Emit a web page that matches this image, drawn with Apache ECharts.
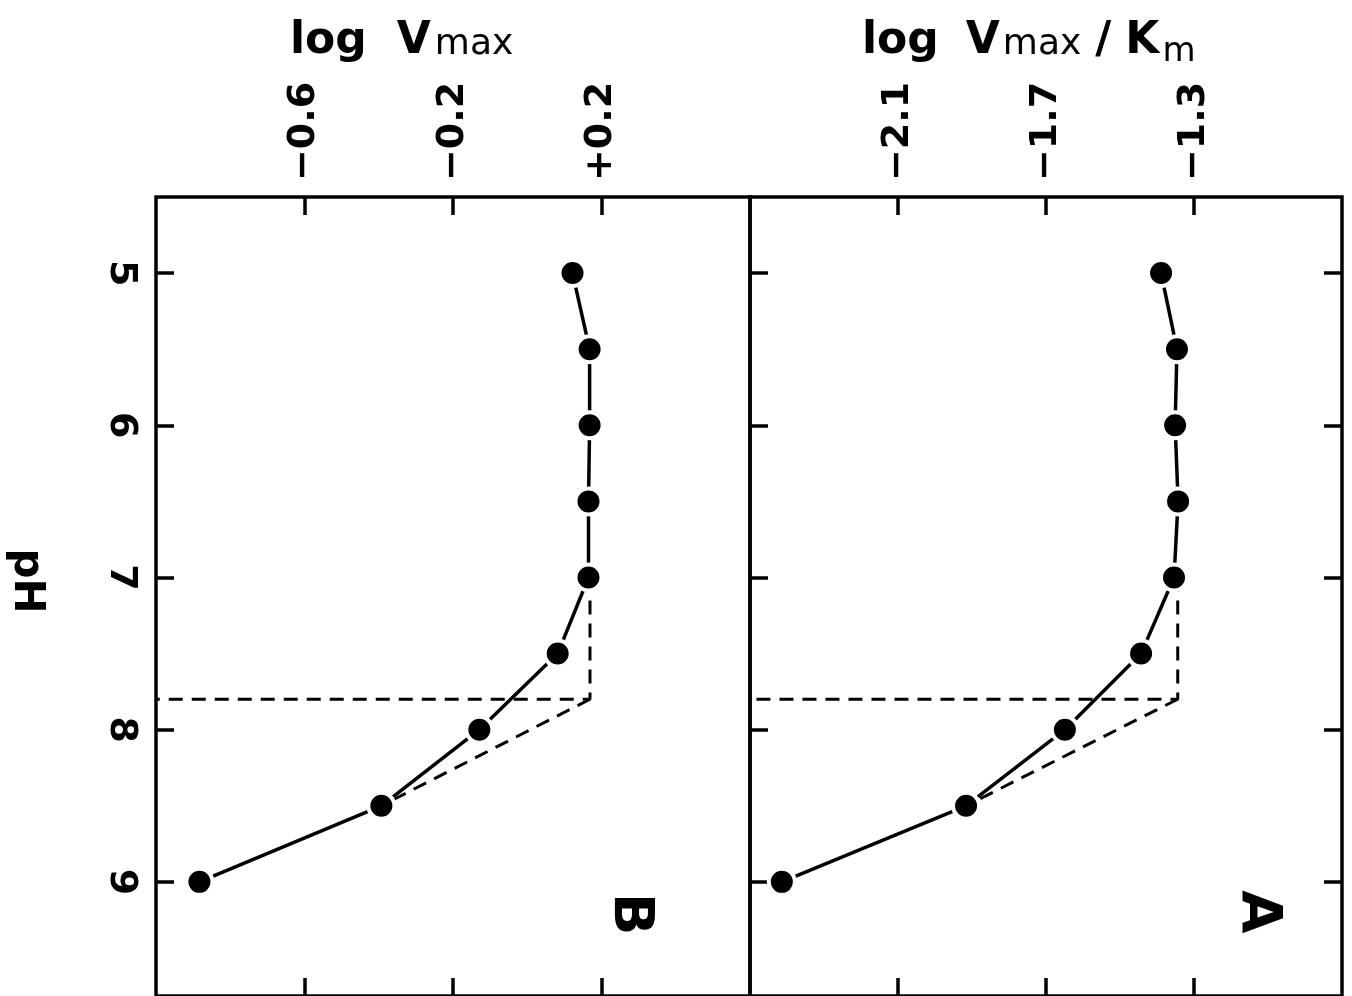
<!DOCTYPE html>
<html>
<head>
<meta charset="utf-8">
<script src="https://cdn.jsdelivr.net/npm/echarts@6/dist/echarts.min.js"></script>
<style>
  html, body { margin: 0; padding: 0; background: #fff; }
  #chart { width: 1352px; height: 996px; }
</style>
</head>
<body>
<div id="chart"></div>
<script>
// pH profile of the enzyme: measured points for both kinetic parameters
const pH = [5, 5.5, 6, 6.5, 7, 7.5, 8, 8.5, 9];
const logVmaxKm = [-1.389, -1.346, -1.351, -1.343, -1.354, -1.443, -1.649, -1.916, -2.414];
const logVmax = [0.122, 0.168, 0.168, 0.165, 0.165, 0.082, -0.129, -0.393, -0.883];

// tick values
const pHTicks = [5, 6, 7, 8, 9];
const ticksA = [-2.1, -1.7, -1.3];
const ticksB = [-0.6, -0.2, 0.2];

// graphical pK estimate: plateau level, break point and limiting slope end
const pK = 7.8;
const plateauA = -1.344;
const plateauB = 0.169;

const rangeA = [-2.5, -0.9];
const rangeB = [-1.0, 0.6];
const pHRange = [4.5, 9.75];

const FONT = '"DejaVu Sans", sans-serif';
const INK = '#000';

function pairs(xs, ys) { return ys.map((y, i) => [xs[i], y]); }
const pointsA = pairs(logVmaxKm, pH);
const pointsB = pairs(logVmax, pH);

const guideA = [[plateauA, 7], [plateauA, pK], [rangeA[0], pK]];
const slopeA = [[plateauA, pK], [logVmaxKm[7], pH[7]]];
const guideB = [[plateauB, 7], [plateauB, pK], [rangeB[0], pK]];
const slopeB = [[plateauB, pK], [logVmax[7], pH[7]]];

function fmtSigned(v) {
  const s = Math.abs(v).toFixed(1);
  if (Math.abs(v) < 1e-9) return s;
  return (v > 0 ? '+' : '\u2212') + s;
}

const tickStyle = { show: true, inside: true, length: 18, lineStyle: { color: INK, width: 3.5 } };
const labelBase = { color: INK, fontFamily: FONT, fontWeight: 'bold' };

function valueAxis(grid, range, ticks, position, withLabels) {
  return {
    gridIndex: grid, type: 'value', position: position,
    min: range[0], max: range[1],
    axisLine: { show: false, onZero: false }, splitLine: { show: false },
    axisTick: Object.assign({ customValues: ticks }, tickStyle),
    axisLabel: withLabels
      ? Object.assign({ show: true, customValues: ticks, rotate: -90, margin: 16, fontSize: 38, formatter: fmtSigned }, labelBase)
      : { show: false }
  };
}

function pHAxis(grid, position, withTicks, withLabels) {
  return {
    gridIndex: grid, type: 'value', position: position, inverse: true,
    min: pHRange[0], max: pHRange[1],
    axisLine: { show: false, onZero: false }, splitLine: { show: false },
    axisTick: withTicks ? Object.assign({ customValues: pHTicks }, tickStyle) : { show: false },
    axisLabel: withLabels
      ? Object.assign({ show: true, customValues: pHTicks, rotate: -90, margin: 16, fontSize: 38 }, labelBase)
      : { show: false }
  };
}

function dataSeries(xi, yi, pts) {
  return {
    type: 'line', xAxisIndex: xi, yAxisIndex: yi, data: pts, z: 5,
    symbol: 'circle', symbolSize: 26, showSymbol: true,
    lineStyle: { color: INK, width: 3.5 },
    itemStyle: { color: INK, borderColor: '#fff', borderWidth: 4 },
    emphasis: { disabled: true }, silent: true
  };
}
function guideSeries(xi, yi, pts) {
  return {
    type: 'line', xAxisIndex: xi, yAxisIndex: yi, data: pts, z: 2,
    symbol: 'none',
    lineStyle: { color: INK, width: 3, type: [14, 9] },
    emphasis: { disabled: true }, silent: true
  };
}

// Axis titles with subscripts, laid out run by run
const measureCtx = document.createElement('canvas').getContext('2d');
function textWidth(t, font) { measureCtx.font = font; return measureCtx.measureText(t).width; }
function titleRuns(x0, baseline, runs) {
  let cx = x0;
  return runs.map(r => {
    const font = (r.bold ? 'bold ' : '') + r.size + 'px ' + FONT;
    const x = cx + (r.gap || 0);
    cx = x + textWidth(r.text, font);
    return {
      type: 'text', silent: true,
      style: {
        text: r.text, x: x, y: baseline + (r.dy || 0) - 0.34 * r.size,
        font: font, fill: INK, align: 'left', verticalAlign: 'middle'
      }
    };
  });
}

const titleA = titleRuns(862, 57, [
  { text: 'log', bold: true, size: 44 },
  { text: 'V', bold: true, size: 44, gap: 27 },
  { text: 'max', bold: false, size: 36, gap: 3 },
  { text: '/', bold: true, size: 44, gap: 14 },
  { text: 'K', bold: true, size: 44, gap: 14 },
  { text: 'm', bold: false, size: 34, gap: 3, dy: 7 }
]);
const titleB = titleRuns(290, 57, [
  { text: 'log', bold: true, size: 44 },
  { text: 'V', bold: true, size: 44, gap: 30 },
  { text: 'max', bold: false, size: 36, gap: 4 }
]);

function rotatedText(text, x, y, size) {
  return {
    type: 'text', silent: true, x: x, y: y, rotation: -Math.PI / 2,
    style: { text: text, x: 0, y: 0, font: 'bold ' + size + 'px ' + FONT, fill: INK, align: 'center', verticalAlign: 'middle' }
  };
}

const chart = echarts.init(document.getElementById('chart'), null, { renderer: 'canvas' });
chart.setOption({
  animation: false,
  backgroundColor: '#fff',
  grid: [
    { left: 156, top: 197, width: 594, height: 800, show: true, borderColor: INK, borderWidth: 3.5, backgroundColor: 'transparent' },
    { left: 750, top: 197, width: 592, height: 800, show: true, borderColor: INK, borderWidth: 3.5, backgroundColor: 'transparent' }
  ],
  xAxis: [
    valueAxis(0, rangeB, ticksB, 'top', true),
    valueAxis(0, rangeB, ticksB, 'bottom', false),
    valueAxis(1, rangeA, ticksA, 'top', true),
    valueAxis(1, rangeA, ticksA, 'bottom', false)
  ],
  yAxis: [
    pHAxis(0, 'left', true, true),
    pHAxis(1, 'left', true, false),
    pHAxis(1, 'right', true, false)
  ],
  series: [
    guideSeries(0, 0, guideB),
    guideSeries(0, 0, slopeB),
    dataSeries(0, 0, pointsB),
    guideSeries(2, 1, guideA),
    guideSeries(2, 1, slopeA),
    dataSeries(2, 1, pointsA)
  ],
  graphic: [].concat(titleA, titleB, [
    rotatedText('pH', 26, 581, 42),
    rotatedText('A', 1258, 912, 56),
    rotatedText('B', 630, 914, 56)
  ])
});
</script>
</body>
</html>
